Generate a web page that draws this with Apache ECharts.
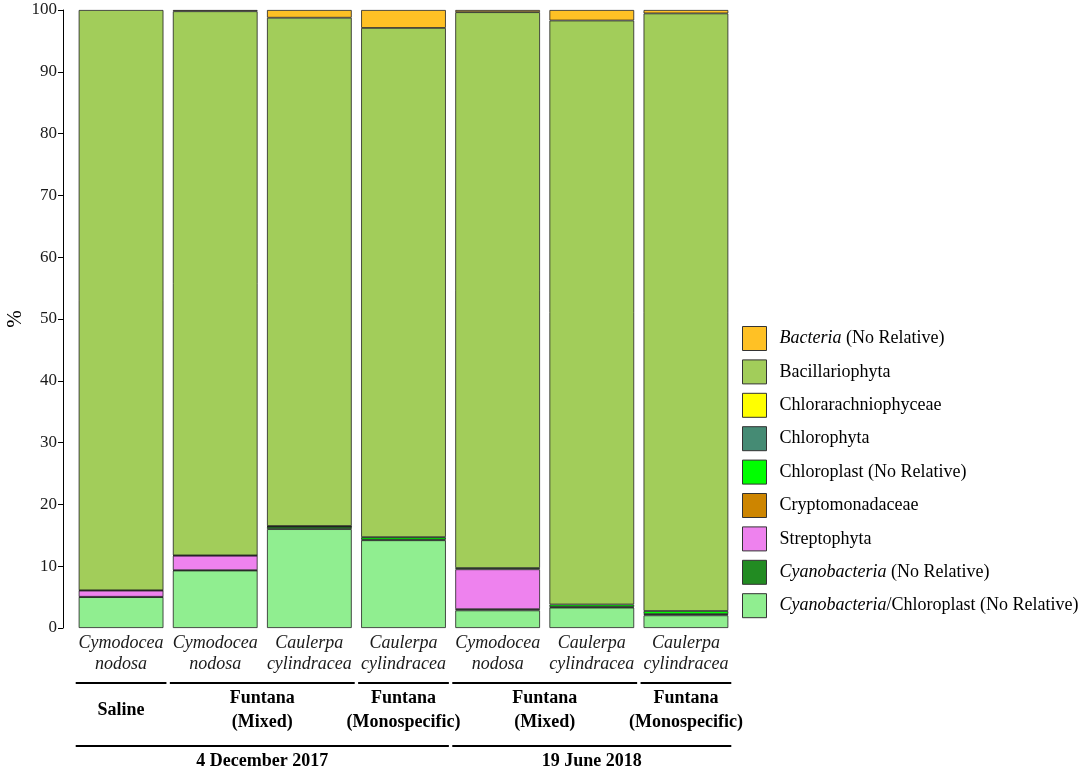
<!DOCTYPE html>
<html>
<head>
<meta charset="utf-8">
<script src="https://cdn.jsdelivr.net/npm/echarts@6/dist/echarts.min.js"></script>
<style>
  html, body { margin: 0; padding: 0; background: #fff; }
  #chart { width: 1084px; height: 772px; }
</style>
</head>
<body>
<div id="chart"></div>
<script>
// categories (host species) and their grouping
var species = ["Cymodocea\nnodosa", "Cymodocea\nnodosa", "Caulerpa\ncylindracea", "Caulerpa\ncylindracea",
               "Cymodocea\nnodosa", "Caulerpa\ncylindracea", "Caulerpa\ncylindracea"];
var sites = ["Saline", "Funtana\n(Mixed)", "Funtana\n(Monospecific)", "Funtana\n(Mixed)", "Funtana\n(Monospecific)"];
var siteSpans = [[0, 0], [1, 2], [3, 3], [4, 5], [6, 6]];
var dates = ["4 December 2017", "19 June 2018"];
var dateSpans = [[0, 3], [4, 6]];
var yTicks = [0, 10, 20, 30, 40, 50, 60, 70, 80, 90, 100];

// series values (%), stacked bottom to top
var cyanoChloroplast = [5.0, 9.3, 16.0, 14.2, 2.85, 3.3, 2.05];
var cyanobacteria    = [0.05, 0.05, 0.4, 0.1, 0.2, 0.1, 0.2];
var streptophyta     = [1.0, 2.35, 0.05, 0, 6.45, 0, 0];
var cryptomonadaceae = [0, 0, 0, 0, 0, 0, 0];
var chloroplast      = [0.05, 0.05, 0.05, 0.4, 0.2, 0.4, 0.5];
var chlorophyta      = [0, 0, 0, 0, 0, 0, 0];
var chlorarachnio    = [0, 0, 0, 0, 0, 0, 0];
var bacillariophyta  = [93.9, 88.05, 82.25, 82.4, 89.95, 94.5, 96.7];
var bacteria         = [0, 0.2, 1.25, 2.9, 0.35, 1.7, 0.55];

var layers = [
   {name: "Cyanobacteria/Chloroplast (No Relative)", label: "{i|Cyanobacteria}/Chloroplast (No Relative)", color: "#90EE90", data: cyanoChloroplast},
   {name: "Cyanobacteria (No Relative)", label: "{i|Cyanobacteria} (No Relative)", color: "#228B22", data: cyanobacteria},
   {name: "Streptophyta", label: "Streptophyta", color: "#EE82EE", data: streptophyta},
   {name: "Cryptomonadaceae", label: "Cryptomonadaceae", color: "#CD8500", data: cryptomonadaceae},
   {name: "Chloroplast (No Relative)", label: "Chloroplast (No Relative)", color: "#00FF00", data: chloroplast},
   {name: "Chlorophyta", label: "Chlorophyta", color: "#458B74", data: chlorophyta},
   {name: "Chlorarachniophyceae", label: "Chlorarachniophyceae", color: "#FFFF00", data: chlorarachnio},
   {name: "Bacillariophyta", label: "Bacillariophyta", color: "#A2CD5A", data: bacillariophyta},
   {name: "Bacteria (No Relative)", label: "{i|Bacteria} (No Relative)", color: "#FFC125", data: bacteria}
];

var FONT = "Liberation Serif";
var chart = echarts.init(document.getElementById("chart"));

var legendLabels = {};
layers.forEach(function (l) { legendLabels[l.name] = l.label; });

var option = {
   animation: false,
   textStyle: {fontFamily: FONT},
   grid: {left: 74, right: 351, top: 10, bottom: 144, outerBoundsMode: "none", containLabel: false},
   legend: {
      orient: "vertical",
      left: 737,
      top: 321,
      itemWidth: 24,
      itemHeight: 24,
      itemGap: 8.4,
      icon: "rect",
      data: layers.map(function (l) { return l.name; }).reverse(),
      itemStyle: {borderColor: "#333", borderWidth: 1},
      formatter: function (name) { return legendLabels[name]; },
      textStyle: {
         fontFamily: FONT, fontSize: 18, color: "#000", lineHeight: 24, padding: [0, 0, 0, 8],
         rich: {i: {fontFamily: FONT, fontSize: 18, fontStyle: "italic", color: "#000", lineHeight: 24}}
      }
   },
   xAxis: {
      type: "category",
      data: species,
      axisLine: {show: false},
      axisTick: {show: false},
      axisLabel: {
         interval: 0, margin: 5, fontFamily: FONT, fontSize: 18, fontStyle: "italic",
         color: "#1a1a1a", lineHeight: 21
      }
   },
   yAxis: {
      type: "value",
      min: 0,
      max: 100,
      interval: 10,
      offset: 11,
      name: "%",
      nameLocation: "middle",
      nameGap: 37,
      nameMoveOverlap: false,
      nameTextStyle: {fontFamily: FONT, fontSize: 21, color: "#000"},
      axisLine: {show: true, lineStyle: {color: "#000", width: 1}},
      axisTick: {show: true, length: 5, lineStyle: {color: "#000"}},
      axisLabel: {
         fontFamily: FONT, fontSize: 17, color: "#1a1a1a", margin: 6,
         formatter: function (v) { return yTicks.indexOf(v) >= 0 ? String(v) : ""; }
      },
      splitLine: {show: false}
   },
   series: layers.map(function (l) {
      return {
         name: l.name,
         type: "bar",
         stack: "total",
         barCategoryGap: "10%",
         data: l.data.map(function (v) { return v === 0 ? null : v; }),
         itemStyle: {color: l.color, borderColor: "#222", borderWidth: 0.8}
      };
   })
};
chart.setOption(option);

// bracket lines and group labels under the axis, placed from the category axis
var step = chart.convertToPixel({xAxisIndex: 0}, 1) - chart.convertToPixel({xAxisIndex: 0}, 0);
var half = step * 0.9 / 2;
function barLeft(i) { return chart.convertToPixel({xAxisIndex: 0}, i) - half; }
function barRight(i) { return chart.convertToPixel({xAxisIndex: 0}, i) + half; }

var graphics = [];
function addGroup(labels, spans, lineY, textY, lineH) {
   spans.forEach(function (s, k) {
      var x0 = barLeft(s[0]) - 3, x1 = barRight(s[1]) + 3;
      graphics.push({
         type: "line",
         shape: {x1: x0, y1: lineY, x2: x1, y2: lineY},
         style: {stroke: "#000", lineWidth: 2}
      });
      graphics.push({
         type: "text",
         x: (x0 + x1) / 2,
         y: textY,
         style: {
            text: labels[k], fontFamily: FONT, fontSize: 18, fontWeight: "bold", fill: "#000",
            align: "center", verticalAlign: "middle", lineHeight: lineH
         }
      });
   });
}
addGroup(sites, siteSpans, 683, 710, 24);
addGroup(dates, dateSpans, 746, 761, 20);
chart.setOption({graphic: graphics});
</script>
</body>
</html>
